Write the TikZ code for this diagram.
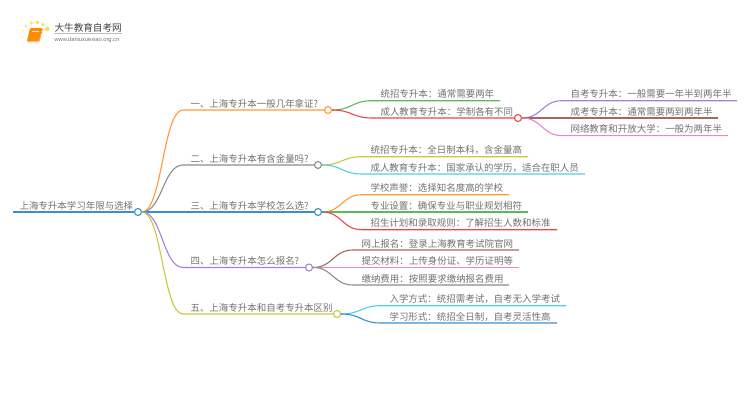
\documentclass[tikz,border=0pt]{standalone}
\usepackage{fontspec}
\setmainfont{Noto Sans CJK SC}
\newfontfamily\urlfont{Liberation Sans}
\definecolor{cblue}{HTML}{3D8FCB}
\definecolor{corange}{HTML}{FF9A3C}
\definecolor{cgrey}{HTML}{8C8C8C}
\definecolor{cpurple}{HTML}{A87FD6}
\definecolor{colive}{HTML}{C9C83C}
\definecolor{cgreen}{HTML}{5CB85C}
\definecolor{cred}{HTML}{E8484C}
\definecolor{ccyan}{HTML}{4FD2E2}
\definecolor{cbrown}{HTML}{A5685C}
\definecolor{cpink}{HTML}{EE85CC}
\definecolor{ctext}{HTML}{707070}

\begin{document}
\begin{tikzpicture}[x=1pt, y=-1pt, line width=1.1pt,
	   t/.style={anchor=base west, inner sep=0pt, text=ctext, font=\fontsize{9.47}{11}\selectfont},
	   hub/.style={circle, draw=#1, fill=white, inner sep=0pt, minimum size=7pt},
	   c/.style={out=0, in=180, distance=20pt}]
	  \useasboundingbox (0,0) rectangle (750,410);
	  % logo
	  \foreach \px/\py/\pr/\po in {47.3/29/2.2/.8, 43/24.5/1.7/.75, 37.5/22.3/1.9/.8, 31.5/22.8/1.8/.7, 26/26/1.5/.6, 22.5/30.5/1.2/.5, 22/37/1/.35, 23.5/42.5/1/.25}
	    \fill[yellow!75!orange, opacity=\po] (\px,\py) circle (\pr);
	  \fill[orange!90!yellow, rounded corners=1pt] (30,28) -- (42.5,28) -- (39,41) -- (27,41) -- cycle;
	  \draw[orange!70!white, line width=.8pt, rounded corners=1pt] (28,38.5) -- (27,41.5) -- (39,42) -- (42.5,29);
	  \draw[white!80!orange, line width=.7pt] (32,31) -- (39,31);
	  \node[anchor=base west, inner sep=0pt, text=black!75, font=\fontsize{9.6}{11}\selectfont] (brand) at (54,31) {大牛教育自考网};
	  \node[anchor=base west, inner sep=0pt, text=black!55, font=\urlfont\fontsize{5.7}{7}\selectfont] (site) at (54,41) {www.daniuxuexiao.org.cn};
	  \draw[black!25, line width=.4pt] (54,33.5) -- (122,33.5);
	  % root
	  \node[hub=cblue] (r) at (138,212) {};
	  \coordinate (r0) at (13,212);
	  \node[t] (rt) at (19,209) {上海专升本学习年限与选择};
	  \draw[cblue] (r0) -- (r);
	  % first level
	  \node[hub=corange] (q1) at (328,110) {};
	  \node[hub=cgrey] (q2) at (318,165) {};
	  \node[hub=cblue] (q3) at (318,212) {};
	  \node[hub=cpurple] (q4) at (309,267.5) {};
	  \node[hub=colive] (q5) at (337,314) {};
	  \node[t] (t1) at (190,107) {一、上海专升本一般几年拿证?};
	  \node[t] (t2) at (190,162) {二、上海专升本有含金量吗?};
	  \node[t] (t3) at (190,209) {三、上海专升本学校怎么选?};
	  \node[t] (t4) at (190,264.5) {四、上海专升本怎么报名?};
	  \node[t] (t5) at (190,311) {五、上海专升本和自考专升本区别};
	  \draw[corange] (r.east) to[c] (183,110) -- (q1.west);
	  \draw[cgrey] (r.east) to[c] (183,165) -- (q2.west);
	  \draw[cblue] (r.east) -- (q3.west);
	  \draw[cpurple] (r.east) to[c] (183,267.5) -- (q4.west);
	  \draw[colive] (r.east) to[c] (183,314) -- (q5.west);
	  % q1
	  \node[hub=cred] (q12) at (518,118) {};
	  \node[t] (a11) at (380,97.7) {统招专升本：通常需要两年};
	  \node[t] (a12) at (380,115) {成人教育专升本：学制各有不同};
	  \coordinate (e11) at (500,100.7);
	  \draw[cgreen] (q1.east) to[c] (372,100.7) -- (e11);
	  \draw[cred] (q1.east) to[c] (372,118) -- (q12.west);
	  \node[t] (a121) at (570,97.7) {自考专升本：一般需要一年半到两年半};
	  \node[t] (a122) at (570,115) {成考专升本：通常需要两到两年半};
	  \node[t] (a123) at (570,132.6) {网络教育和开放大学：一般为两年半};
	  \coordinate (e121) at (737,100.7);
	  \coordinate (e122) at (718,118);
	  \coordinate (e123) at (728,135.6);
	  \draw[cpurple] (q12.east) to[c] (562,100.7) -- (e121);
	  \draw[cbrown] (q12.east) -- (e122);
	  \draw[cpink] (q12.east) to[c] (562,135.6) -- (e123);
	  % q2
	  \node[t] (a21) at (370,153.7) {统招专升本：全日制本科，含金量高};
	  \node[t] (a22) at (370,171) {成人教育专升本：国家承认的学历，适合在职人员};
	  \coordinate (e21) at (528,156.7);
	  \coordinate (e22) at (585,174);
	  \draw[colive] (q2.east) to[c] (362,156.7) -- (e21);
	  \draw[ccyan] (q2.east) to[c] (362,174) -- (e22);
	  % q3
	  \node[t] (a31) at (370,191.7) {学校声誉：选择知名度高的学校};
	  \node[t] (a32) at (370,209) {专业设置：确保专业与职业规划相符};
	  \node[t] (a33) at (370,226.7) {招生计划和录取规则：了解招生人数和标准};
	  \coordinate (e31) at (509,194.7);
	  \coordinate (e32) at (528,212);
	  \coordinate (e33) at (557,229.7);
	  \draw[corange] (q3.east) to[c] (362,194.7) -- (e31);
	  \draw[cgreen] (q3.east) -- (e32);
	  \draw[cred] (q3.east) to[c] (362,229.7) -- (e33);
	  % q4
	  \node[t] (a41) at (361,247) {网上报名：登录上海教育考试院官网};
	  \node[t] (a42) at (361,264.5) {提交材料：上传身份证、学历证明等};
	  \node[t] (a43) at (361,282) {缴纳费用：按照要求缴纳报名费用};
	  \coordinate (e41) at (519,250);
	  \coordinate (e42) at (519,267.5);
	  \coordinate (e43) at (509,285);
	  \draw[cbrown] (q4.east) to[c] (353,250) -- (e41);
	  \draw[cpink] (q4.east) -- (e42);
	  \draw[cgrey] (q4.east) to[c] (353,285) -- (e43);
	  % q5
	  \node[t] (a51) at (389,302.7) {入学方式：统招需考试，自考无入学考试};
	  \node[t] (a52) at (389,320) {学习形式：统招全日制，自考灵活性高};
	  \coordinate (e51) at (566,305.7);
	  \coordinate (e52) at (557,323);
	  \draw[ccyan] (q5.east) to[c] (381,305.7) -- (e51);
	  \draw[cblue] (q5.east) to[c] (381,323) -- (e52);
	\end{tikzpicture}
\end{document}
